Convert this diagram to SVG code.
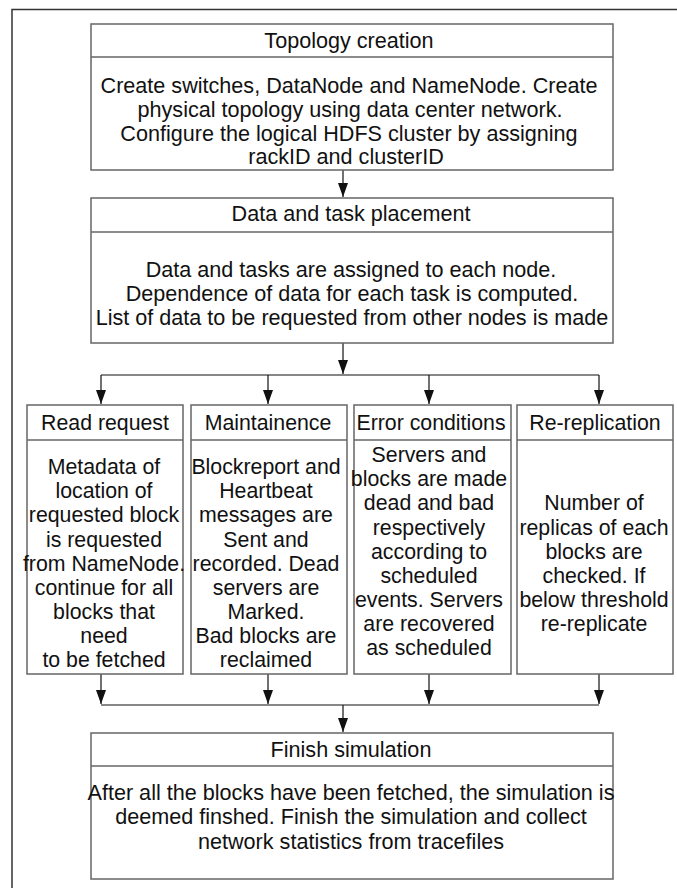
<svg xmlns="http://www.w3.org/2000/svg" width="677" height="888" viewBox="0 0 677 888">
  <style>
    .box { fill: #ffffff; stroke: #666666; stroke-width: 1.5; }
    .div { stroke: #666666; stroke-width: 1.5; }
    .t { font-family: "Liberation Sans", Arial, sans-serif; font-size: 21.6px; fill: #111111; text-anchor: middle; }
    .c { font-size: 21.3px; }
    .wire { fill: none; stroke: #111111; stroke-width: 1.2; }
  </style>
  <defs>
    <marker id="arrow" viewBox="0 0 14 10" refX="14" refY="5" markerWidth="14" markerHeight="10" markerUnits="userSpaceOnUse" orient="auto">
      <path d="M0,0 L14,5 L0,10 Z" fill="#111111"/>
    </marker>
  </defs>

  <rect width="677" height="888" fill="#ffffff"/>
  <!-- outer frame -->
  <rect x="12" y="9.5" width="700" height="900" fill="none" stroke="#333333" stroke-width="1.5"/>

  <!-- connectors -->
  <g id="connectors">
    <line class="wire" x1="343" y1="170" x2="343" y2="197" marker-end="url(#arrow)"/>
    <line class="wire" x1="343" y1="343" x2="343" y2="374" marker-end="url(#arrow)"/>
    <line class="wire" x1="101" y1="375" x2="599" y2="375"/>
    <line class="wire" x1="101" y1="375" x2="101" y2="404" marker-end="url(#arrow)"/>
    <line class="wire" x1="268" y1="375" x2="268" y2="404" marker-end="url(#arrow)"/>
    <line class="wire" x1="429" y1="375" x2="429" y2="404" marker-end="url(#arrow)"/>
    <line class="wire" x1="599" y1="375" x2="599" y2="404" marker-end="url(#arrow)"/>
    <line class="wire" x1="101" y1="674" x2="101" y2="704" marker-end="url(#arrow)"/>
    <line class="wire" x1="268" y1="674" x2="268" y2="704" marker-end="url(#arrow)"/>
    <line class="wire" x1="429" y1="674" x2="429" y2="704" marker-end="url(#arrow)"/>
    <line class="wire" x1="599" y1="674" x2="599" y2="704" marker-end="url(#arrow)"/>
    <line class="wire" x1="101" y1="705" x2="599" y2="705"/>
    <line class="wire" x1="343" y1="705" x2="343" y2="732" marker-end="url(#arrow)"/>
  </g>

  <g id="topology-creation">
    <rect class="box" x="91" y="24" width="522" height="146"/>
    <line class="div" x1="91" y1="57" x2="613" y2="57"/>
    <text class="t" x="349" y="48">Topology creation</text>
    <text class="t" x="349" y="93">Create switches, DataNode and NameNode. Create</text>
    <text class="t" x="350" y="117">physical topology using data center network.</text>
    <text class="t" x="349" y="140.5">Configure the logical HDFS cluster by assigning</text>
    <text class="t" x="346" y="164">rackID and clusterID</text>
  </g>

  <g id="data-task-placement">
    <rect class="box" x="91" y="198" width="522" height="145"/>
    <line class="div" x1="91" y1="232" x2="613" y2="232"/>
    <text class="t" x="351" y="221">Data and task placement</text>
    <text class="t" x="351" y="277">Data and tasks are assigned to each node.</text>
    <text class="t" x="352" y="301">Dependence of data for each task is computed.</text>
    <text class="t" x="352" y="325">List of data to be requested from other nodes is made</text>
  </g>

  <g id="read-request">
    <rect class="box" x="27" y="405" width="156" height="269"/>
    <line class="div" x1="27" y1="440" x2="183" y2="440"/>
    <text class="t c" x="105" y="430">Read request</text>
    <text class="t c" x="104" y="474">Metadata of</text>
    <text class="t c" x="104" y="498">location of</text>
    <text class="t c" x="104" y="522">requested block</text>
    <text class="t c" x="104" y="547">is requested</text>
    <text class="t c" x="104" y="571">from NameNode.</text>
    <text class="t c" x="104" y="595">continue for all</text>
    <text class="t c" x="104" y="619">blocks that</text>
    <text class="t c" x="104" y="643">need</text>
    <text class="t c" x="104" y="667">to be fetched</text>
  </g>

  <g id="maintainence">
    <rect class="box" x="191" y="405" width="156" height="269"/>
    <line class="div" x1="191" y1="440" x2="347" y2="440"/>
    <text class="t c" x="268" y="430">Maintainence</text>
    <text class="t c" x="266" y="474">Blockreport and</text>
    <text class="t c" x="266" y="498">Heartbeat</text>
    <text class="t c" x="266" y="522">messages are</text>
    <text class="t c" x="266" y="547">Sent and</text>
    <text class="t c" x="266" y="571">recorded. Dead</text>
    <text class="t c" x="266" y="595">servers are</text>
    <text class="t c" x="266" y="619">Marked.</text>
    <text class="t c" x="266" y="643">Bad blocks are</text>
    <text class="t c" x="266" y="667">reclaimed</text>
  </g>

  <g id="error-conditions">
    <rect class="box" x="354" y="405" width="157" height="269"/>
    <line class="div" x1="354" y1="440" x2="511" y2="440"/>
    <text class="t c" x="431" y="430">Error conditions</text>
    <text class="t c" x="429" y="462">Servers and</text>
    <text class="t c" x="429" y="486">blocks are made</text>
    <text class="t c" x="429" y="510">dead and bad</text>
    <text class="t c" x="429" y="535">respectively</text>
    <text class="t c" x="429" y="559">according to</text>
    <text class="t c" x="429" y="583">scheduled</text>
    <text class="t c" x="429" y="607">events. Servers</text>
    <text class="t c" x="429" y="631">are recovered</text>
    <text class="t c" x="429" y="655">as scheduled</text>
  </g>

  <g id="re-replication">
    <rect class="box" x="517" y="405" width="156" height="269"/>
    <line class="div" x1="517" y1="440" x2="673" y2="440"/>
    <text class="t c" x="595" y="430">Re-replication</text>
    <text class="t c" x="594" y="510">Number of</text>
    <text class="t c" x="594" y="535">replicas of each</text>
    <text class="t c" x="594" y="559">blocks are</text>
    <text class="t c" x="594" y="583">checked. If</text>
    <text class="t c" x="594" y="607">below threshold</text>
    <text class="t c" x="594" y="631">re-replicate</text>
  </g>

  <g id="finish-simulation">
    <rect class="box" x="91" y="733" width="522" height="146"/>
    <line class="div" x1="91" y1="766" x2="613" y2="766"/>
    <text class="t" x="351" y="757">Finish simulation</text>
    <text class="t" x="351" y="800">After all the blocks have been fetched, the simulation is</text>
    <text class="t" x="351" y="824">deemed finshed. Finish the simulation and collect</text>
    <text class="t" x="351" y="848.5">network statistics from tracefiles</text>
  </g>
</svg>
